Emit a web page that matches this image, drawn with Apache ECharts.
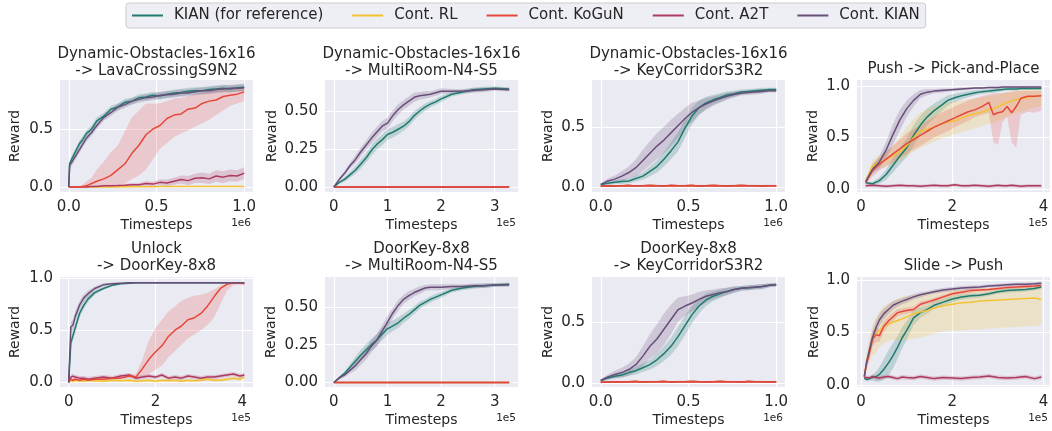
<!DOCTYPE html>
<html>
<head>
<meta charset="utf-8">
<script src="https://cdn.jsdelivr.net/npm/echarts@6/dist/echarts.min.js"></script>
<style>
  html, body { margin: 0; padding: 0; background: #fff; }
  #chart { width: 1052px; height: 431px; }
</style>
</head>
<body>
<div id="chart"></div>
<script>
  const methods = ['KIAN (for reference)', 'Cont. RL', 'Cont. KoGuN', 'Cont. A2T', 'Cont. KIAN']
  const colors = ['#1f7a6f', '#f3c232', '#e6473b', '#ae3a5f', '#694e79']

  const titles = [
    'Dynamic-Obstacles-16x16\n-> LavaCrossingS9N2',
    'Dynamic-Obstacles-16x16\n-> MultiRoom-N4-S5',
    'Dynamic-Obstacles-16x16\n-> KeyCorridorS3R2',
    'Push -> Pick-and-Place',
    'Unlock\n-> DoorKey-8x8',
    'DoorKey-8x8\n-> MultiRoom-N4-S5',
    'DoorKey-8x8\n-> KeyCorridorS3R2',
    'Slide -> Push'
  ]
  const xExponents = ['1e6', '1e5', '1e6', '1e5', '1e5', '1e5', '1e6', '1e5']

  // ---- panel 1 : DO-16x16 -> LavaCrossingS9N2 (x in 1e6)
  const p1X = [0, 0.005, 0.02, 0.04, 0.06, 0.08, 0.1, 0.13, 0.16, 0.2, 0.24, 0.28, 0.32, 0.36, 0.4, 0.44, 0.48, 0.52, 0.56, 0.6, 0.64, 0.68, 0.72, 0.76, 0.8, 0.84, 0.88, 0.92, 0.96, 1.0]
  const p1Kian = [0, 0.2, 0.25, 0.31, 0.37, 0.41, 0.46, 0.5, 0.57, 0.61, 0.67, 0.69, 0.73, 0.74, 0.77, 0.775, 0.79, 0.785, 0.8, 0.81, 0.815, 0.825, 0.83, 0.83, 0.84, 0.845, 0.85, 0.845, 0.855, 0.86]
  const p1RL = [0, 0, 0, 0, 0, 0, 0, 0, 0, 0, 0, 0, 0.002, 0.002, 0.003, 0.003, 0.003, 0.004, 0.004, 0.004, 0.004, 0.005, 0.005, 0.005, 0.005, 0.005, 0.005, 0.005, 0.005, 0.005]
  const p1KoGuN = [0, 0, 0, 0, 0, 0.005, 0.01, 0.03, 0.05, 0.07, 0.1, 0.15, 0.2, 0.29, 0.36, 0.45, 0.5, 0.53, 0.59, 0.62, 0.63, 0.67, 0.68, 0.72, 0.74, 0.75, 0.78, 0.79, 0.8, 0.82]
  const p1KoGuNLo = [0, 0, 0, 0, 0, 0, 0, 0, 0, 0.005, 0.01, 0.015, 0.03, 0.07, 0.1, 0.15, 0.24, 0.33, 0.38, 0.43, 0.46, 0.49, 0.52, 0.55, 0.58, 0.62, 0.66, 0.7, 0.72, 0.74]
  const p1KoGuNHi = [0, 0, 0, 0, 0.01, 0.02, 0.05, 0.08, 0.15, 0.22, 0.3, 0.36, 0.48, 0.6, 0.66, 0.72, 0.72, 0.72, 0.74, 0.76, 0.77, 0.78, 0.8, 0.81, 0.82, 0.84, 0.85, 0.85, 0.86, 0.86]
  const p1A2T = [0, 0, 0, 0, 0, 0, 0, 0.005, 0.005, 0.01, 0.01, 0.012, 0.015, 0.02, 0.02, 0.03, 0.025, 0.04, 0.035, 0.05, 0.065, 0.055, 0.075, 0.08, 0.07, 0.095, 0.085, 0.1, 0.095, 0.12]
  const p1A2TSpread = [0, 0, 0, 0, 0, 0, 0, 0.005, 0.005, 0.01, 0.01, 0.01, 0.01, 0.015, 0.015, 0.02, 0.02, 0.025, 0.03, 0.03, 0.035, 0.04, 0.04, 0.045, 0.045, 0.05, 0.05, 0.05, 0.05, 0.05]
  const p1ContKian = [0, 0.19, 0.22, 0.27, 0.32, 0.37, 0.42, 0.47, 0.53, 0.6, 0.64, 0.69, 0.71, 0.74, 0.755, 0.77, 0.775, 0.79, 0.795, 0.8, 0.81, 0.81, 0.82, 0.83, 0.83, 0.84, 0.845, 0.85, 0.85, 0.855]

  // ---- panel 2 : DO-16x16 -> MultiRoom-N4-S5 (x in 1e5)
  const p2X = [0, 0.1, 0.2, 0.3, 0.4, 0.5, 0.6, 0.7, 0.8, 0.9, 1.0, 1.1, 1.2, 1.3, 1.4, 1.5, 1.6, 1.7, 1.8, 1.9, 2.0, 2.2, 2.4, 2.6, 2.8, 3.0, 3.27]
  const p2Kian = [0, 0.03, 0.05, 0.08, 0.11, 0.15, 0.19, 0.24, 0.28, 0.31, 0.345, 0.36, 0.38, 0.4, 0.43, 0.47, 0.5, 0.525, 0.545, 0.56, 0.58, 0.61, 0.625, 0.64, 0.645, 0.65, 0.645]
  const p2ContKian = [0, 0.05, 0.09, 0.14, 0.18, 0.23, 0.275, 0.32, 0.36, 0.4, 0.42, 0.47, 0.51, 0.54, 0.565, 0.59, 0.6, 0.605, 0.61, 0.62, 0.63, 0.63, 0.63, 0.635, 0.64, 0.645, 0.64]
  const p2Zero = [0, 0, 0, 0, 0, 0, 0, 0, 0, 0, 0, 0, 0, 0, 0, 0, 0, 0, 0, 0, 0, 0, 0, 0, 0, 0, 0]
  const p2Spread = [0, 0.01, 0.015, 0.02, 0.025, 0.03, 0.03, 0.035, 0.035, 0.035, 0.035, 0.035, 0.035, 0.03, 0.03, 0.03, 0.025, 0.025, 0.02, 0.02, 0.02, 0.015, 0.015, 0.015, 0.015, 0.012, 0.012]

  // ---- panel 3 : DO-16x16 -> KeyCorridorS3R2 (x in 1e6)
  const p3X = [0, 0.04, 0.08, 0.12, 0.16, 0.2, 0.24, 0.28, 0.32, 0.36, 0.4, 0.44, 0.48, 0.52, 0.56, 0.6, 0.64, 0.68, 0.72, 0.76, 0.8, 0.84, 0.88, 0.92, 0.96, 1.0]
  const p3Kian = [0.02, 0.03, 0.04, 0.045, 0.05, 0.07, 0.09, 0.13, 0.17, 0.23, 0.3, 0.375, 0.49, 0.59, 0.66, 0.7, 0.725, 0.745, 0.765, 0.775, 0.79, 0.795, 0.8, 0.805, 0.81, 0.81]
  const p3ContKian = [0.02, 0.05, 0.065, 0.09, 0.12, 0.16, 0.22, 0.28, 0.34, 0.39, 0.45, 0.51, 0.57, 0.62, 0.66, 0.69, 0.715, 0.735, 0.755, 0.77, 0.78, 0.785, 0.79, 0.795, 0.8, 0.8]
  const p3Low = [0.005, 0.01, 0.008, 0.01, 0.012, 0.008, 0.01, 0.012, 0.01, 0.008, 0.012, 0.01, 0.01, 0.012, 0.008, 0.01, 0.012, 0.01, 0.008, 0.01, 0.012, 0.01, 0.01, 0.008, 0.01, 0.01]
  const p3KianSpread = [0.01, 0.015, 0.015, 0.02, 0.02, 0.025, 0.03, 0.04, 0.05, 0.06, 0.07, 0.08, 0.08, 0.07, 0.06, 0.05, 0.04, 0.035, 0.03, 0.025, 0.02, 0.02, 0.02, 0.02, 0.015, 0.015]
  const p3ContSpread = [0.01, 0.02, 0.03, 0.04, 0.05, 0.07, 0.09, 0.1, 0.11, 0.11, 0.11, 0.1, 0.09, 0.08, 0.06, 0.05, 0.04, 0.035, 0.03, 0.025, 0.02, 0.02, 0.02, 0.02, 0.015, 0.015]

  // ---- panel 4 : Push -> Pick-and-Place (x in 1e5)
  const p4X = [0.1, 0.25, 0.4, 0.55, 0.7, 0.85, 1.0, 1.15, 1.3, 1.45, 1.6, 1.75, 1.9, 2.05, 2.2, 2.35, 2.5, 2.65, 2.8, 2.9, 3.0, 3.1, 3.2, 3.3, 3.4, 3.5, 3.65, 3.8, 3.95]
  const p4Kian = [0.06, 0.05, 0.08, 0.14, 0.23, 0.32, 0.4, 0.52, 0.62, 0.7, 0.76, 0.81, 0.86, 0.885, 0.905, 0.92, 0.935, 0.945, 0.95, 0.955, 0.96, 0.965, 0.97, 0.97, 0.97, 0.975, 0.975, 0.975, 0.975]
  const p4KianSpread = [0.01, 0.02, 0.03, 0.05, 0.07, 0.08, 0.09, 0.1, 0.09, 0.08, 0.07, 0.06, 0.05, 0.04, 0.035, 0.03, 0.025, 0.02, 0.02, 0.02, 0.02, 0.015, 0.015, 0.015, 0.015, 0.015, 0.015, 0.015, 0.015]
  const p4RL = [0.08, 0.22, 0.26, 0.29, 0.32, 0.36, 0.42, 0.5, 0.56, 0.58, 0.6, 0.635, 0.65, 0.66, 0.69, 0.715, 0.73, 0.745, 0.77, 0.78, 0.8, 0.82, 0.84, 0.855, 0.87, 0.875, 0.89, 0.9, 0.905]
  const p4RLLo = [0.05, 0.16, 0.2, 0.22, 0.24, 0.27, 0.31, 0.36, 0.4, 0.43, 0.46, 0.49, 0.51, 0.53, 0.55, 0.57, 0.59, 0.61, 0.63, 0.64, 0.66, 0.68, 0.7, 0.72, 0.74, 0.75, 0.77, 0.79, 0.8]
  const p4RLHi = [0.1, 0.28, 0.33, 0.37, 0.42, 0.5, 0.6, 0.68, 0.74, 0.78, 0.8, 0.82, 0.84, 0.85, 0.86, 0.87, 0.88, 0.89, 0.9, 0.91, 0.92, 0.93, 0.94, 0.95, 0.96, 0.96, 0.97, 0.97, 0.97]
  const p4KoGuN = [0.06, 0.18, 0.24, 0.29, 0.34, 0.39, 0.44, 0.48, 0.52, 0.56, 0.6, 0.63, 0.66, 0.69, 0.72, 0.75, 0.77, 0.8, 0.84, 0.72, 0.74, 0.75, 0.8, 0.74, 0.8, 0.88, 0.9, 0.9, 0.905]
  const p4KoGuNLo = [0.04, 0.12, 0.18, 0.22, 0.26, 0.3, 0.34, 0.38, 0.42, 0.46, 0.5, 0.53, 0.56, 0.6, 0.63, 0.66, 0.7, 0.72, 0.74, 0.45, 0.43, 0.65, 0.7, 0.45, 0.4, 0.72, 0.75, 0.74, 0.76]
  const p4KoGuNHi = [0.08, 0.24, 0.3, 0.36, 0.42, 0.48, 0.54, 0.58, 0.62, 0.66, 0.7, 0.74, 0.77, 0.8, 0.83, 0.86, 0.88, 0.9, 0.92, 0.93, 0.93, 0.93, 0.94, 0.94, 0.95, 0.95, 0.95, 0.95, 0.95]
  const p4A2T = [0.03, 0.035, 0.03, 0.025, 0.03, 0.035, 0.03, 0.03, 0.025, 0.03, 0.035, 0.03, 0.03, 0.04, 0.03, 0.03, 0.035, 0.03, 0.025, 0.03, 0.035, 0.03, 0.03, 0.035, 0.03, 0.025, 0.03, 0.03, 0.03]
  const p4ContKian = [0.07, 0.19, 0.26, 0.38, 0.53, 0.67, 0.78, 0.86, 0.92, 0.94, 0.95, 0.955, 0.96, 0.965, 0.97, 0.975, 0.98, 0.98, 0.985, 0.985, 0.985, 0.99, 0.99, 0.99, 0.99, 0.99, 0.99, 0.99, 0.99]
  const p4ContSpread = [0.01, 0.04, 0.06, 0.08, 0.1, 0.1, 0.08, 0.06, 0.04, 0.03, 0.02, 0.02, 0.015, 0.015, 0.015, 0.01, 0.01, 0.01, 0.01, 0.01, 0.01, 0.01, 0.01, 0.01, 0.01, 0.01, 0.01, 0.01, 0.01]

  // ---- panel 5 : Unlock -> DoorKey-8x8 (x in 1e5)
  const p5X = [0, 0.05, 0.1, 0.15, 0.25, 0.35, 0.45, 0.6, 0.8, 1.0, 1.2, 1.4, 1.55, 1.7, 1.85, 2.0, 2.15, 2.3, 2.45, 2.6, 2.75, 2.9, 3.05, 3.2, 3.35, 3.5, 3.65, 3.8, 3.95, 4.05]
  const p5Kian = [0, 0.38, 0.45, 0.52, 0.66, 0.74, 0.8, 0.86, 0.9, 0.93, 0.945, 0.95, 0.955, 0.955, 0.955, 0.955, 0.955, 0.955, 0.955, 0.955, 0.955, 0.955, 0.955, 0.955, 0.955, 0.955, 0.955, 0.955, 0.955, 0.955]
  const p5RL = [0, 0.02, 0.01, 0.02, 0.015, 0.01, 0.02, 0.015, 0.01, 0.02, 0.015, 0.02, 0.01, 0.015, 0.02, 0.01, 0.02, 0.015, 0.02, 0.01, 0.02, 0.015, 0.02, 0.03, 0.02, 0.02, 0.03, 0.04, 0.03, 0.05]
  const p5KoGuN = [0, 0.03, 0.02, 0.03, 0.02, 0.03, 0.02, 0.03, 0.03, 0.04, 0.04, 0.06, 0.05, 0.13, 0.22, 0.29, 0.35, 0.44, 0.5, 0.54, 0.6, 0.62, 0.66, 0.73, 0.82, 0.9, 0.94, 0.955, 0.95, 0.945]
  const p5KoGuNLo = [0, 0.02, 0.01, 0.02, 0.01, 0.02, 0.01, 0.02, 0.02, 0.03, 0.03, 0.04, 0.03, 0.05, 0.08, 0.12, 0.16, 0.24, 0.3, 0.36, 0.42, 0.46, 0.5, 0.55, 0.62, 0.75, 0.88, 0.93, 0.94, 0.94]
  const p5KoGuNHi = [0, 0.04, 0.03, 0.04, 0.03, 0.04, 0.03, 0.04, 0.04, 0.05, 0.06, 0.08, 0.08, 0.22, 0.4, 0.52, 0.6, 0.68, 0.73, 0.78, 0.81, 0.83, 0.84, 0.86, 0.89, 0.93, 0.96, 0.96, 0.96, 0.96]
  const p5A2T = [0, 0.05, 0.06, 0.05, 0.04, 0.04, 0.03, 0.04, 0.05, 0.04, 0.06, 0.07, 0.04, 0.05, 0.06, 0.05, 0.07, 0.04, 0.05, 0.04, 0.06, 0.05, 0.04, 0.05, 0.05, 0.06, 0.07, 0.08, 0.06, 0.07]
  const p5ContKian = [0, 0.53, 0.55, 0.63, 0.74, 0.81, 0.85, 0.9, 0.935, 0.945, 0.95, 0.955, 0.955, 0.955, 0.955, 0.955, 0.955, 0.955, 0.955, 0.955, 0.955, 0.955, 0.955, 0.955, 0.955, 0.955, 0.955, 0.955, 0.955, 0.955]
  const p5Spread = [0, 0.05, 0.05, 0.05, 0.04, 0.035, 0.03, 0.02, 0.015, 0.01, 0.008, 0.006, 0.005, 0.005, 0.005, 0.005, 0.005, 0.005, 0.005, 0.005, 0.005, 0.005, 0.005, 0.005, 0.005, 0.005, 0.005, 0.005, 0.005, 0.005]

  // ---- panel 6 : DoorKey-8x8 -> MultiRoom-N4-S5 (x in 1e5)
  const p6X = [0, 0.1, 0.2, 0.3, 0.4, 0.5, 0.6, 0.7, 0.8, 0.9, 1.0, 1.1, 1.2, 1.3, 1.4, 1.5, 1.6, 1.7, 1.8, 1.9, 2.0, 2.2, 2.4, 2.6, 2.8, 3.0, 3.27]
  const p6Kian = [0, 0.03, 0.06, 0.1, 0.14, 0.18, 0.215, 0.25, 0.28, 0.32, 0.355, 0.375, 0.395, 0.425, 0.45, 0.48, 0.51, 0.53, 0.55, 0.565, 0.58, 0.61, 0.625, 0.635, 0.64, 0.645, 0.65]
  const p6ContKian = [0, 0.03, 0.05, 0.08, 0.11, 0.15, 0.19, 0.24, 0.28, 0.34, 0.4, 0.46, 0.51, 0.55, 0.575, 0.595, 0.61, 0.625, 0.63, 0.63, 0.63, 0.635, 0.635, 0.64, 0.64, 0.645, 0.645]
  const p6Zero = [0, 0, 0, 0, 0, 0, 0, 0, 0, 0, 0, 0, 0, 0, 0, 0, 0, 0, 0, 0, 0, 0, 0, 0, 0, 0, 0]
  const p6Spread = [0, 0.01, 0.015, 0.02, 0.03, 0.035, 0.04, 0.04, 0.04, 0.04, 0.04, 0.035, 0.035, 0.03, 0.03, 0.025, 0.025, 0.02, 0.02, 0.02, 0.02, 0.015, 0.015, 0.015, 0.015, 0.012, 0.012]

  // ---- panel 7 : DoorKey-8x8 -> KeyCorridorS3R2 (x in 1e6)
  const p7X = [0, 0.04, 0.08, 0.12, 0.16, 0.2, 0.24, 0.28, 0.32, 0.36, 0.4, 0.44, 0.48, 0.52, 0.56, 0.6, 0.64, 0.68, 0.72, 0.76, 0.8, 0.84, 0.88, 0.92, 0.96, 1.0]
  const p7Kian = [0.02, 0.04, 0.055, 0.065, 0.085, 0.1, 0.125, 0.15, 0.19, 0.24, 0.3, 0.38, 0.47, 0.56, 0.63, 0.68, 0.71, 0.73, 0.75, 0.765, 0.775, 0.78, 0.785, 0.79, 0.8, 0.805]
  const p7ContKian = [0.02, 0.05, 0.07, 0.085, 0.11, 0.15, 0.22, 0.3, 0.36, 0.44, 0.52, 0.6, 0.63, 0.655, 0.685, 0.71, 0.725, 0.74, 0.75, 0.765, 0.775, 0.78, 0.785, 0.79, 0.8, 0.805]
  const p7Low = [0.005, 0.008, 0.01, 0.008, 0.01, 0.012, 0.008, 0.01, 0.01, 0.012, 0.008, 0.01, 0.01, 0.012, 0.01, 0.008, 0.01, 0.012, 0.01, 0.01, 0.008, 0.012, 0.01, 0.01, 0.008, 0.01]
  const p7KianSpread = [0.01, 0.015, 0.02, 0.02, 0.025, 0.03, 0.035, 0.04, 0.05, 0.06, 0.07, 0.08, 0.08, 0.07, 0.06, 0.05, 0.04, 0.035, 0.03, 0.025, 0.02, 0.02, 0.02, 0.02, 0.015, 0.015]
  const p7ContSpread = [0.01, 0.02, 0.03, 0.04, 0.05, 0.06, 0.08, 0.1, 0.12, 0.13, 0.12, 0.1, 0.08, 0.07, 0.06, 0.05, 0.04, 0.035, 0.03, 0.025, 0.02, 0.02, 0.02, 0.02, 0.015, 0.015]

  // ---- panel 8 : Slide -> Push (x in 1e5)
  const p8X = [0.07, 0.12, 0.18, 0.25, 0.33, 0.4, 0.5, 0.6, 0.7, 0.8, 0.9, 1.0, 1.15, 1.3, 1.45, 1.6, 1.8, 2.0, 2.2, 2.4, 2.6, 2.8, 3.0, 3.2, 3.4, 3.6, 3.8, 3.95]
  const p8Kian = [0.065, 0.05, 0.06, 0.07, 0.08, 0.1, 0.15, 0.21, 0.28, 0.36, 0.45, 0.52, 0.64, 0.69, 0.72, 0.76, 0.79, 0.82, 0.84, 0.85, 0.855, 0.87, 0.89, 0.9, 0.905, 0.91, 0.92, 0.935]
  const p8KianSpread = [0.01, 0.015, 0.02, 0.03, 0.05, 0.07, 0.1, 0.12, 0.12, 0.11, 0.1, 0.09, 0.07, 0.05, 0.04, 0.035, 0.03, 0.03, 0.025, 0.025, 0.02, 0.02, 0.02, 0.02, 0.02, 0.02, 0.02, 0.02]
  const p8RL = [0.08, 0.22, 0.33, 0.43, 0.49, 0.52, 0.56, 0.58, 0.6, 0.615, 0.63, 0.65, 0.68, 0.695, 0.71, 0.735, 0.755, 0.77, 0.785, 0.79, 0.8, 0.805, 0.81, 0.815, 0.82, 0.825, 0.83, 0.815]
  const p8RLLo = [0.07, 0.14, 0.22, 0.28, 0.31, 0.36, 0.4, 0.42, 0.43, 0.43, 0.43, 0.43, 0.44, 0.45, 0.47, 0.49, 0.51, 0.52, 0.52, 0.53, 0.53, 0.54, 0.54, 0.55, 0.55, 0.56, 0.56, 0.57]
  const p8RLHi = [0.09, 0.3, 0.44, 0.58, 0.65, 0.7, 0.75, 0.78, 0.8, 0.82, 0.84, 0.85, 0.86, 0.87, 0.88, 0.89, 0.9, 0.905, 0.91, 0.915, 0.92, 0.925, 0.93, 0.93, 0.935, 0.94, 0.94, 0.94]
  const p8KoGuN = [0.08, 0.2, 0.3, 0.44, 0.48, 0.47, 0.56, 0.61, 0.65, 0.69, 0.7, 0.71, 0.72, 0.77, 0.79, 0.81, 0.84, 0.87, 0.885, 0.9, 0.905, 0.91, 0.92, 0.93, 0.935, 0.94, 0.945, 0.95]
  const p8A2T = [0.07, 0.07, 0.065, 0.08, 0.07, 0.065, 0.075, 0.08, 0.07, 0.06, 0.075, 0.07, 0.065, 0.08, 0.07, 0.06, 0.07, 0.065, 0.06, 0.07, 0.075, 0.085, 0.07, 0.065, 0.07, 0.08, 0.06, 0.075]
  const p8ContKian = [0.08, 0.22, 0.33, 0.45, 0.55, 0.62, 0.68, 0.72, 0.76, 0.78, 0.8, 0.815, 0.84, 0.86, 0.875, 0.89, 0.905, 0.915, 0.925, 0.93, 0.935, 0.945, 0.95, 0.955, 0.96, 0.96, 0.965, 0.97]
  const p8Spread = [0.01, 0.04, 0.06, 0.07, 0.07, 0.06, 0.05, 0.045, 0.04, 0.035, 0.03, 0.03, 0.025, 0.025, 0.02, 0.02, 0.02, 0.02, 0.02, 0.02, 0.015, 0.015, 0.015, 0.015, 0.015, 0.015, 0.015, 0.015]

  // each panel: x grid, axis ranges, tick values, and curves (method index, mean, band)
  const panels = [
    {
      x: p1X, xr: [-0.05, 1.05], yr: [-0.043, 0.922], xt: [0, 0.5, 1], yt: [0, 0.5], xd: 1, yd: 1,
      curves: [
        { m: 0, y: p1Kian, s: 0.03 },
        { m: 1, y: p1RL, s: 0.003 },
        { m: 3, y: p1A2T, s: p1A2TSpread },
        { m: 2, y: p1KoGuN, lo: p1KoGuNLo, hi: p1KoGuNHi },
        { m: 4, y: p1ContKian, s: 0.03 }
      ]
    },
    {
      x: p2X, xr: [-0.165, 3.435], yr: [-0.033, 0.704], xt: [0, 1, 2, 3], yt: [0, 0.25, 0.5], xd: 0, yd: 2,
      curves: [
        { m: 0, y: p2Kian, s: p2Spread },
        { m: 1, y: p2Zero, s: 0.002 },
        { m: 3, y: p2Zero, s: 0.002 },
        { m: 2, y: p2Zero, s: 0.002 },
        { m: 4, y: p2ContKian, s: p2Spread }
      ]
    },
    {
      x: p3X, xr: [-0.05, 1.05], yr: [-0.042, 0.89], xt: [0, 0.5, 1], yt: [0, 0.5], xd: 1, yd: 1,
      curves: [
        { m: 0, y: p3Kian, s: p3KianSpread },
        { m: 1, y: p3Low, s: 0.006 },
        { m: 3, y: p3Low, s: 0.008 },
        { m: 2, y: p3Low, s: 0.006 },
        { m: 4, y: p3ContKian, s: p3ContSpread }
      ]
    },
    {
      x: p4X, xr: [-0.09, 4.14], yr: [-0.03, 1.058], xt: [0, 2, 4], yt: [0, 0.5, 1], xd: 0, yd: 1,
      curves: [
        { m: 0, y: p4Kian, s: p4KianSpread },
        { m: 1, y: p4RL, lo: p4RLLo, hi: p4RLHi },
        { m: 3, y: p4A2T, s: 0.015 },
        { m: 2, y: p4KoGuN, lo: p4KoGuNLo, hi: p4KoGuNHi },
        { m: 4, y: p4ContKian, s: p4ContSpread }
      ]
    },
    {
      x: p5X, xr: [-0.2, 4.25], yr: [-0.045, 1.01], xt: [0, 2, 4], yt: [0, 0.5, 1], xd: 0, yd: 1,
      curves: [
        { m: 0, y: p5Kian, s: p5Spread },
        { m: 1, y: p5RL, s: 0.015 },
        { m: 3, y: p5A2T, s: 0.02 },
        { m: 2, y: p5KoGuN, lo: p5KoGuNLo, hi: p5KoGuNHi },
        { m: 4, y: p5ContKian, s: p5Spread }
      ]
    },
    {
      x: p6X, xr: [-0.165, 3.435], yr: [-0.03, 0.698], xt: [0, 1, 2, 3], yt: [0, 0.25, 0.5], xd: 0, yd: 2,
      curves: [
        { m: 0, y: p6Kian, s: p6Spread },
        { m: 1, y: p6Zero, s: 0.002 },
        { m: 3, y: p6Zero, s: 0.002 },
        { m: 2, y: p6Zero, s: 0.002 },
        { m: 4, y: p6ContKian, s: p6Spread }
      ]
    },
    {
      x: p7X, xr: [-0.05, 1.05], yr: [-0.033, 0.868], xt: [0, 0.5, 1], yt: [0, 0.5], xd: 1, yd: 1,
      curves: [
        { m: 0, y: p7Kian, s: p7KianSpread },
        { m: 1, y: p7Low, s: 0.006 },
        { m: 3, y: p7Low, s: 0.008 },
        { m: 2, y: p7Low, s: 0.006 },
        { m: 4, y: p7ContKian, s: p7ContSpread }
      ]
    },
    {
      x: p8X, xr: [-0.09, 4.14], yr: [-0.02, 1.03], xt: [0, 2, 4], yt: [0, 0.5, 1], xd: 0, yd: 1,
      curves: [
        { m: 0, y: p8Kian, s: p8KianSpread },
        { m: 1, y: p8RL, lo: p8RLLo, hi: p8RLHi },
        { m: 3, y: p8A2T, s: 0.02 },
        { m: 2, y: p8KoGuN, s: p8Spread },
        { m: 4, y: p8ContKian, s: p8Spread }
      ]
    }
  ]

  const colLeft = [60, 325, 592, 857]
  const rowTop = [80, 277]
  const rowHeight = [112, 110]
  const yNameGap = [38, 46, 37, 37, 38, 47, 37, 36]
  const textColor = '#262626'
  const font = 'DejaVu Sans'

  function hexA(hex, a) {
    const n = parseInt(hex.slice(1), 16)
    return 'rgba(' + (n >> 16) + ',' + ((n >> 8) & 255) + ',' + (n & 255) + ',' + a + ')'
  }

  function bandRender(params, api) {
    if (params.dataIndexInside !== 0) return
    const n = params.dataInsideLength
    const top = []
    const bot = []
    for (let i = 0; i < n; i++) {
      top.push(api.coord([api.value(0, i), api.value(2, i)]))
      bot.push(api.coord([api.value(0, i), api.value(1, i)]))
    }
    return {
      type: 'polygon',
      shape: { points: top.concat(bot.reverse()) },
      style: { fill: api.visual('color') }
    }
  }

  const grid = []
  const xAxis = []
  const yAxis = []
  const series = []
  const title = []
  const graphic = []

  panels.forEach((p, i) => {
    const row = Math.floor(i / 4)
    const col = i % 4
    const left = colLeft[col]
    const top = rowTop[row]
    const h = rowHeight[row]
    grid.push({ left: left, top: top, width: 193, height: h, show: true, backgroundColor: '#eaeaf2', borderWidth: 0 })

    xAxis.push({
      type: 'value', gridIndex: i, min: p.xr[0], max: p.xr[1],
      axisLine: { show: false },
      axisTick: { show: false, customValues: p.xt },
      axisLabel: { customValues: p.xt, color: textColor, fontFamily: font, fontSize: 15, margin: 8, formatter: v => v.toFixed(p.xd) },
      splitLine: { show: true, lineStyle: { color: '#ffffff', width: 1.2 } },
      name: 'Timesteps', nameLocation: 'middle', nameGap: 26,
      nameTextStyle: { color: textColor, fontFamily: font, fontSize: 14 }
    })
    yAxis.push({
      type: 'value', gridIndex: i, min: p.yr[0], max: p.yr[1],
      axisLine: { show: false },
      axisTick: { show: false, customValues: p.yt },
      axisLabel: { customValues: p.yt, color: textColor, fontFamily: font, fontSize: 15, margin: 7, formatter: v => v.toFixed(p.yd) },
      splitLine: { show: true, lineStyle: { color: '#ffffff', width: 1.2 } },
      name: 'Reward', nameLocation: 'middle', nameGap: yNameGap[i],
      nameTextStyle: { color: textColor, fontFamily: font, fontSize: 14 }
    })

    p.curves.forEach(c => {
      const lo = c.lo || c.y.map((v, k) => v - (Array.isArray(c.s) ? c.s[k] : c.s))
      const hi = c.hi || c.y.map((v, k) => v + (Array.isArray(c.s) ? c.s[k] : c.s))
      series.push({
        type: 'custom', xAxisIndex: i, yAxisIndex: i, z: 1, silent: true,
        renderItem: bandRender,
        itemStyle: { color: hexA(colors[c.m], c.m === 2 ? 0.2 : 0.22) },
        encode: { x: 0, y: [1, 2] },
        data: p.x.map((x, k) => [x, lo[k], hi[k]])
      })
    })
    p.curves.forEach(c => {
      series.push({
        type: 'line', name: methods[c.m], xAxisIndex: i, yAxisIndex: i, z: 2,
        symbol: 'none', silent: true, animation: false,
        color: colors[c.m],
        lineStyle: { width: 1.5, color: colors[c.m] },
        data: p.x.map((x, k) => [x, c.y[k]])
      })
    })

    const twoLines = titles[i].indexOf('\n') >= 0
    title.push({
      text: titles[i], left: left + 96.5, top: row === 0 ? (twoLines ? 46 : 61) : (twoLines ? 241 : 258),
      textAlign: 'center', padding: 0,
      textStyle: { color: textColor, fontFamily: font, fontSize: 15, fontWeight: 'normal', lineHeight: 17 }
    })
    graphic.push({
      type: 'text', right: 1052 - (left + 193) + 2, top: row === 0 ? 218 : 413,
      style: { text: xExponents[i], fill: textColor, fontFamily: font, fontSize: 10.5 }
    })
  })

  const chart = echarts.init(document.getElementById('chart'))
  chart.setOption({
    animation: false,
    textStyle: { fontFamily: font },
    title: title,
    legend: {
      data: methods,
      left: 126, top: 3,
      padding: [5, 6],
      icon: 'rect', itemWidth: 31, itemHeight: 2, itemGap: 29,
      backgroundColor: '#eeeef5', borderColor: '#cccccc', borderWidth: 1, borderRadius: 3,
      textStyle: { color: textColor, fontFamily: font, fontSize: 15, padding: [0, 0, 0, 6] }
    },
    grid: grid,
    xAxis: xAxis,
    yAxis: yAxis,
    series: series,
    graphic: graphic
  })
</script>
</body>
</html>
